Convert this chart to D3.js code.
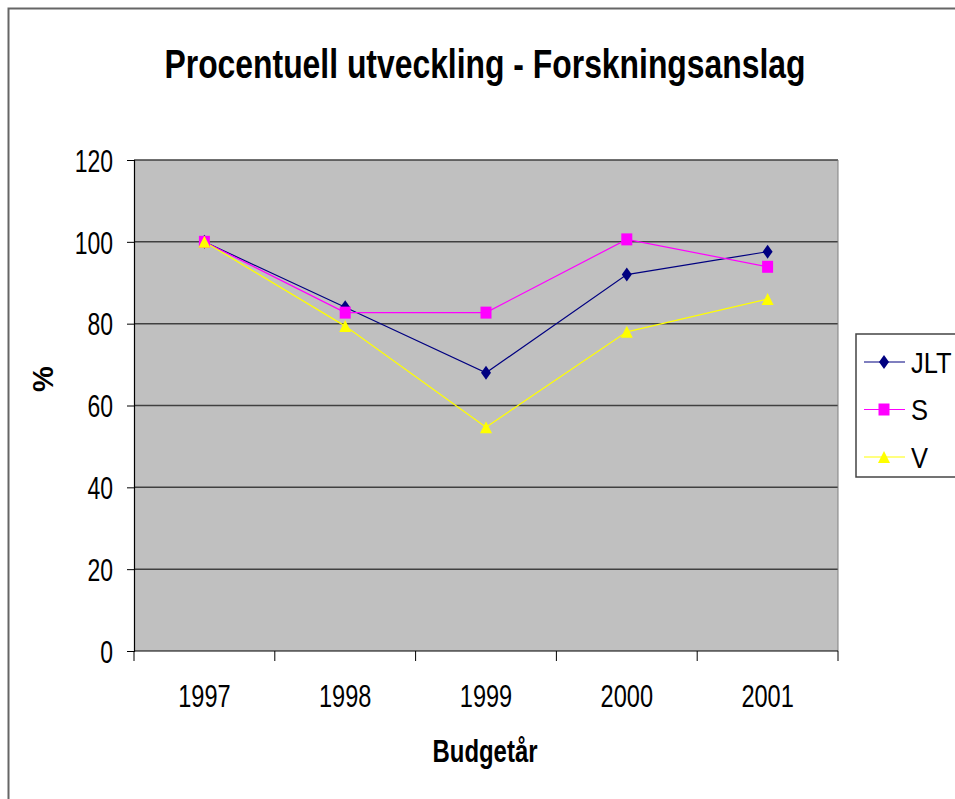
<!DOCTYPE html>
<html>
<head>
<meta charset="utf-8">
<script src="https://cdn.jsdelivr.net/npm/d3@7"></script>
<style>
  body { margin: 0; background: #fff; }
  text { font-family: "Liberation Sans", Arial, sans-serif; fill: #000; }
</style>
</head>
<body>
<main></main>
<script>
var years = ["1997", "1998", "1999", "2000", "2001"];
var jlt = [100, 84, 68, 92, 97.6];
var s   = [100, 82.7, 82.7, 100.6, 93.9];
var v   = [100, 79.4, 54.7, 78, 86];
var yTicks = [0, 20, 40, 60, 80, 100, 120];

var series = [
  { name: "JLT", values: jlt, color: "#000080", marker: "diamond" },
  { name: "S",   values: s,   color: "#FF00FF", marker: "square" },
  { name: "V",   values: v,   color: "#FFFF00", marker: "triangle" }
];

var svg = d3.select("main")
  .append("svg")
    .attr("width", 955)
    .attr("height", 799);

// squeeze text horizontally like the narrow original
function squeeze(sel, k) {
  sel.each(function() {
    var len = this.getComputedTextLength();
    d3.select(this).attr("textLength", len * k).attr("lengthAdjust", "spacingAndGlyphs");
  });
}

// outer chart border (runs off the page right and bottom)
svg.append("rect")
  .attr("x", 8.5).attr("y", 8.5)
  .attr("width", 1000).attr("height", 1000)
  .attr("fill", "#fff")
  .attr("stroke", "#666")
  .attr("stroke-width", 2);

var x = d3.scaleBand().domain(years).range([134, 838]).padding(0);
var y = d3.scaleLinear().domain([0, 120]).range([651, 160]);

// plot area
svg.append("rect")
  .attr("x", 134).attr("y", 160)
  .attr("width", 704).attr("height", 491)
  .attr("fill", "#C0C0C0");

// gridlines
svg.selectAll(".grid")
  .data(yTicks.slice(1))
  .enter().append("line")
    .attr("x1", 134).attr("x2", 838)
    .attr("y1", function(d) { return y(d); })
    .attr("y2", function(d) { return y(d); })
    .attr("stroke", "#404040")
    .attr("stroke-width", 1.5);

// right edge of plot
svg.append("line")
  .attr("x1", 838).attr("x2", 838).attr("y1", 160).attr("y2", 651)
  .attr("stroke", "#808080");

// y axis
var yAxis = svg.append("g")
  .attr("transform", "translate(134,0)")
  .call(d3.axisLeft(y).tickValues(yTicks).tickSize(7).tickPadding(14));
yAxis.select(".domain").attr("stroke", "#000").attr("stroke-width", 1.2);
yAxis.selectAll("line").attr("stroke", "#000");
yAxis.selectAll("text")
  .style("font-size", "31px")
  .style("font-family", "'Liberation Sans', Arial, sans-serif")
  .attr("dy", "0.36em");
squeeze(yAxis.selectAll("text"), 0.74);

// x axis, ticks on category boundaries
var xAxis = svg.append("g")
  .attr("transform", "translate(0,651)");
xAxis.append("line")
  .attr("x1", 134).attr("x2", 838)
  .attr("stroke", "#000").attr("stroke-width", 1.2);
xAxis.selectAll(".xt")
  .data(years.concat(["end"]))
  .enter().append("line")
    .attr("x1", function(d, i) { return 134 + i * x.bandwidth(); })
    .attr("x2", function(d, i) { return 134 + i * x.bandwidth(); })
    .attr("y1", 0).attr("y2", 10)
    .attr("stroke", "#000");
var xLabels = xAxis.selectAll(".xl")
  .data(years)
  .enter().append("text")
    .attr("x", function(d) { return x(d) + x.bandwidth() / 2; })
    .attr("y", 56)
    .attr("text-anchor", "middle")
    .style("font-size", "31px")
    .text(function(d) { return d; });
squeeze(xLabels, 0.76);

// lines and markers
var line = d3.line()
  .x(function(d, i) { return x(years[i]) + x.bandwidth() / 2; })
  .y(function(d) { return y(d); });

series.forEach(function(sr) {
  svg.append("path")
    .attr("d", line(sr.values))
    .attr("fill", "none")
    .attr("stroke", sr.color)
    .attr("stroke-width", 1.2);
});

function markerPath(type) {
  if (type === "diamond") return "M0,-7L5,0L0,7L-5,0Z";
  if (type === "square") return "M-5.5,-6L5.5,-6L5.5,6L-5.5,6Z";
  return "M0,-6L6,6L-6,6Z";
}

series.forEach(function(sr) {
  svg.selectAll(".m-" + sr.name)
    .data(sr.values)
    .enter().append("path")
      .attr("d", markerPath(sr.marker))
      .attr("transform", function(d, i) {
        return "translate(" + (x(years[i]) + x.bandwidth() / 2) + "," + y(d) + ")";
      })
      .attr("fill", sr.color);
});

// title
var title = svg.append("text")
  .attr("x", 485).attr("y", 78)
  .attr("text-anchor", "middle")
  .style("font-size", "41px")
  .style("font-weight", "bold")
  .text("Procentuell utveckling - Forskningsanslag");
title.attr("textLength", 641).attr("lengthAdjust", "spacingAndGlyphs");

// axis titles
var xt = svg.append("text")
  .attr("x", 485).attr("y", 762)
  .attr("text-anchor", "middle")
  .style("font-size", "31px")
  .style("font-weight", "bold")
  .text("Budgetår");
xt.attr("textLength", 105).attr("lengthAdjust", "spacingAndGlyphs");

svg.append("text")
  .attr("transform", "translate(53,379) rotate(-90)")
  .attr("text-anchor", "middle")
  .style("font-size", "29px")
  .style("font-weight", "bold")
  .text("%");

// legend
var legend = svg.append("g");
legend.append("rect")
  .attr("x", 856).attr("y", 334)
  .attr("width", 120).attr("height", 143)
  .attr("fill", "#fff")
  .attr("stroke", "#444")
  .attr("stroke-width", 1.5);

var items = legend.selectAll(".li")
  .data(series)
  .enter().append("g")
    .attr("transform", function(d, i) { return "translate(0," + (362 + i * 47.5) + ")"; });
items.append("line")
  .attr("x1", 864).attr("x2", 905)
  .attr("stroke", function(d) { return d.color; })
  .attr("stroke-width", 1.2);
items.append("path")
  .attr("transform", "translate(884,0)")
  .attr("d", function(d) { return markerPath(d.marker); })
  .attr("fill", function(d) { return d.color; });
var ltext = items.append("text")
  .attr("x", 911).attr("y", 0)
  .attr("dy", "0.36em")
  .style("font-size", "30px")
  .text(function(d) { return d.name; });
squeeze(ltext, 0.85);
</script>
</body>
</html>
